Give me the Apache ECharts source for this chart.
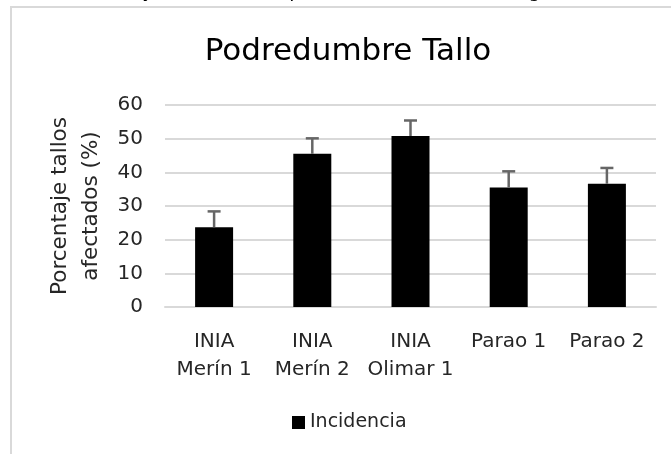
<!DOCTYPE html>
<html>
<head>
<meta charset="utf-8">
<script src="https://cdn.jsdelivr.net/npm/echarts@6/dist/echarts.min.js"></script>
<style>
  * { margin: 0; padding: 0; }
  body { background: #fff; }
  #chart1 { width: 671px; height: 454px; }
</style>
</head>
<body>
<div id="chart1"></div>
<script>
// datos
var variedades = ['INIA\nMerín 1', 'INIA\nMerín 2', 'INIA\nOlimar 1', 'Parao 1', 'Parao 2'];
var incidencia = [23.7, 45.5, 50.8, 35.5, 36.6];
var errorSup = [4.7, 4.6, 4.6, 4.8, 4.7];
var ticksY = [0, 10, 20, 30, 40, 50, 60];

var fuente = 'DejaVu Sans';
var chart = echarts.init(document.getElementById('chart1'));

var errData = [];
for (let i = 0; i < incidencia.length; i++) {
  errData.push([i, incidencia[i], errorSup[i]]);
}

chart.setOption({
  animation: false,
  textStyle: { fontFamily: fuente },
  graphic: [
    {
      type: 'rect',
      z: -1,
      shape: { x: 11, y: 7, width: 700, height: 500 },
      style: { fill: '#fff', stroke: '#d9d9d9', lineWidth: 2 }
    },
    {
      type: 'text',
      x: 0,
      y: 2,
      style: {
        text: 'de la variedad y su control de podredumbre de tallo, según',
        fill: '#000',
        font: '19px "DejaVu Sans"',
        verticalAlign: 'bottom'
      }
    }
  ],
  title: {
    text: 'Podredumbre Tallo',
    left: 343,
    textAlign: 'center',
    top: 31,
    textStyle: { fontFamily: fuente, fontSize: 31, fontWeight: 'normal', color: '#000' }
  },
  legend: {
    left: 292,
    top: 413,
    padding: 0,
    icon: 'rect',
    itemWidth: 13,
    itemHeight: 13,
    itemGap: 6,
    textStyle: { fontFamily: fuente, fontSize: 19, color: '#262626' },
    data: ['Incidencia']
  },
  grid: { left: 165, right: 15, top: 105, bottom: 147 },
  xAxis: {
    type: 'category',
    data: variedades,
    axisLine: { lineStyle: { color: '#d9d9d9', width: 2 } },
    axisTick: { show: false },
    axisLabel: {
      color: '#262626',
      fontFamily: fuente,
      fontSize: 20,
      lineHeight: 28,
      margin: 21,
      interval: 0
    }
  },
  yAxis: {
    type: 'value',
    min: ticksY[0],
    max: ticksY[ticksY.length - 1],
    interval: 10,
    name: 'Porcentaje tallos\nafectados (%)',
    nameLocation: 'middle',
    nameGap: 48,
    nameTextStyle: { fontFamily: fuente, fontSize: 21.5, lineHeight: 31, color: '#262626' },
    axisLine: { show: false },
    axisTick: { show: false },
    axisLabel: { color: '#262626', fontFamily: fuente, fontSize: 20, margin: 22 },
    splitLine: { lineStyle: { color: '#d9d9d9', width: 2 } }
  },
  series: [
    {
      name: 'Incidencia',
      type: 'bar',
      data: incidencia,
      barWidth: 38,
      itemStyle: { color: '#000' }
    },
    {
      type: 'custom',
      name: 'error',
      data: errData,
      z: 3,
      renderItem: function (params, api) {
        var i = api.value(0);
        var base = api.coord([i, api.value(1)]);
        var top = api.coord([i, api.value(1) + api.value(2)]);
        var st = { stroke: '#666', lineWidth: 2.5 };
        return {
          type: 'group',
          children: [
            { type: 'line', shape: { x1: base[0], y1: base[1], x2: top[0], y2: top[1] }, style: st },
            { type: 'line', shape: { x1: top[0] - 6.5, y1: top[1], x2: top[0] + 6.5, y2: top[1] }, style: st }
          ]
        };
      }
    }
  ]
});
</script>
</body>
</html>
